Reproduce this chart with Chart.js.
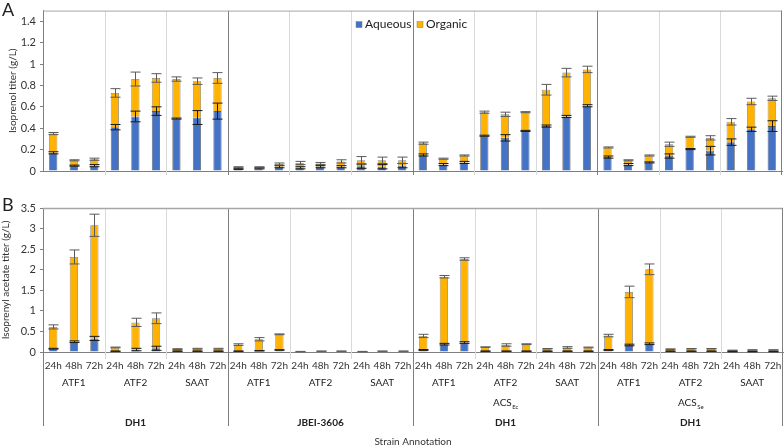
<!DOCTYPE html>
<html>
<head>
<meta charset="utf-8">
<script src="https://cdn.jsdelivr.net/npm/chart.js@4.4.1/dist/chart.umd.min.js"></script>
<style>
body { margin: 0; background: #fff; }
#wrap { position: relative; width: 784px; height: 448px; font-family: Lato, sans-serif; }
.box { position: absolute; left: 0; width: 784px; }
.tag { position: absolute; left: 2px; font-size: 18px; line-height: 18px; color: #222; }
</style>
</head>
<body>
<div id="wrap">
  <div class="box" style="top:0;height:182px"><canvas id="chartA"></canvas></div>
  <div class="box" style="top:180px;height:268px"><canvas id="chartB"></canvas></div>
  <div class="tag" style="top:0px">A</div>
  <div class="tag" style="top:195px">B</div>
</div>
<script>
// category levels
const strains = ['DH1', 'JBEI-3606', 'DH1', 'DH1'];
const acsTags = ['', '', 'Ec', 'Se'];
const enzymes = ['ATF1', 'ATF2', 'SAAT'];
const times = ['24h', '48h', '72h'];

// panel A - isoprenol (g/L)
const aqueousA = [0.17, 0.05, 0.05, 0.41, 0.51, 0.56, 0.49, 0.50, 0.56,
    0.02, 0.025, 0.04, 0.03, 0.04, 0.04, 0.045, 0.04, 0.05,
    0.15, 0.06, 0.08, 0.33, 0.31, 0.375, 0.42, 0.51, 0.61,
    0.13, 0.06, 0.08, 0.14, 0.205, 0.19, 0.27, 0.39, 0.42];
const organicA = [0.18, 0.05, 0.06, 0.32, 0.35, 0.31, 0.37, 0.34, 0.31,
    0.015, 0.01, 0.025, 0.045, 0.03, 0.05, 0.055, 0.06, 0.05,
    0.11, 0.055, 0.065, 0.22, 0.22, 0.175, 0.34, 0.41, 0.34,
    0.09, 0.04, 0.065, 0.11, 0.115, 0.12, 0.19, 0.26, 0.26];
const errAqA = [0.01, 0.005, 0.01, 0.025, 0.05, 0.04, 0.005, 0.065, 0.075,
    0.005, 0.005, 0.01, 0.01, 0.01, 0.01, 0.02, 0.02, 0.02,
    0.01, 0.01, 0.01, 0.005, 0.03, 0.005, 0.01, 0.01, 0.01,
    0.01, 0.01, 0.005, 0.02, 0.005, 0.04, 0.03, 0.02, 0.05];
const errOrgA = [0.01, 0.005, 0.01, 0.04, 0.065, 0.04, 0.02, 0.03, 0.05,
    0.005, 0.005, 0.01, 0.015, 0.01, 0.015, 0.035, 0.03, 0.03,
    0.01, 0.005, 0.005, 0.01, 0.02, 0.005, 0.05, 0.04, 0.03,
    0.005, 0.005, 0.005, 0.02, 0.005, 0.02, 0.03, 0.03, 0.02];
const ticksA = [0, 0.2, 0.4, 0.6, 0.8, 1, 1.2, 1.4];

// panel B - isoprenyl acetate (g/L)
const aqueousB = [0.08, 0.25, 0.33, 0.02, 0.06, 0.09, 0.02, 0.02, 0.02,
    0.02, 0.03, 0.05, 0.005, 0.01, 0.01, 0.005, 0.01, 0.01,
    0.05, 0.19, 0.23, 0.02, 0.02, 0.02, 0.02, 0.02, 0.02,
    0.05, 0.17, 0.20, 0.02, 0.02, 0.02, 0.01, 0.01, 0.01];
const organicB = [0.53, 2.06, 2.75, 0.09, 0.66, 0.73, 0.05, 0.06, 0.06,
    0.16, 0.28, 0.38, 0.005, 0.01, 0.01, 0.005, 0.01, 0.01,
    0.34, 1.64, 2.03, 0.10, 0.15, 0.17, 0.06, 0.09, 0.09,
    0.35, 1.29, 1.81, 0.05, 0.06, 0.06, 0.03, 0.04, 0.04];
const errAqB = [0.01, 0.02, 0.05, 0.005, 0.03, 0.05, 0.005, 0.005, 0.005,
    0.005, 0.005, 0.005, 0, 0, 0, 0, 0, 0,
    0.01, 0.02, 0.02, 0.005, 0.005, 0.005, 0.005, 0.005, 0.005,
    0.01, 0.02, 0.02, 0.005, 0.005, 0.005, 0.005, 0.005, 0.005];
const errOrgB = [0.05, 0.17, 0.27, 0.01, 0.1, 0.13, 0.01, 0.01, 0.01,
    0.02, 0.04, 0.01, 0.005, 0.005, 0.005, 0.005, 0.005, 0.005,
    0.04, 0.03, 0.03, 0.005, 0.03, 0.01, 0.005, 0.02, 0.01,
    0.03, 0.14, 0.13, 0.005, 0.005, 0.005, 0.005, 0.005, 0.005];
const ticksB = [0, 0.5, 1, 1.5, 2, 2.5, 3, 3.5];

const FONT = 'Lato, sans-serif';
const BLUE = '#4472C4';
const ORANGE = '#FFB300';

const labels = [];
strains.forEach(() => enzymes.forEach(() => times.forEach(t => labels.push(t))));

function midX(chart, i) {
    const x = chart.scales.x;
    return (x.getPixelForValue(i - 1) + x.getPixelForValue(i)) / 2;
}

function line(ctx, x1, y1, x2, y2, color, w) {
    ctx.strokeStyle = color;
    ctx.lineWidth = w || 1;
    ctx.beginPath();
    ctx.moveTo(x1, y1);
    ctx.lineTo(x2, y2);
    ctx.stroke();
}

// separators between enzyme / strain groups, plus frame
const dividers = {
    id: 'dividers',
    beforeDatasetsDraw(chart, args, opts) {
        const { ctx, chartArea: a } = chart;
        ctx.save();
        for (let i = 3; i < labels.length; i += 3) {
            const x = Math.round(midX(chart, i)) + 0.5;
            if (i % 9 === 0) line(ctx, x, a.top, x, a.bottom + opts.strainDrop, '#7f7f7f');
            else line(ctx, x, a.top, x, a.bottom + opts.enzDrop, '#d9d9d9');
        }
        line(ctx, a.left, a.top + 0.5, a.right, a.top + 0.5, '#a6a6a6', opts.topW);
        line(ctx, Math.round(a.right) - 0.5, a.top, Math.round(a.right) - 0.5, a.bottom + opts.strainDrop, '#7f7f7f');
        if (opts.strainDrop > 5) line(ctx, Math.round(a.left) + 0.5, a.bottom, Math.round(a.left) + 0.5, a.bottom + opts.strainDrop, '#7f7f7f');
        ctx.restore();
    }
};

const errbars = {
    id: 'errbars',
    afterDatasetsDraw(chart, args, opts) {
        const ctx = chart.ctx, y = chart.scales.y;
        ctx.save();
        chart.data.datasets.forEach((ds, d) => {
            const meta = chart.getDatasetMeta(d);
            meta.data.forEach((bar, i) => {
                const e = opts.errors[d][i];
                if (!e) return;
                let top = 0;
                for (let k = 0; k <= d; k++) top += chart.data.datasets[k].data[i];
                const y1 = y.getPixelForValue(top + e), y2 = y.getPixelForValue(top - e);
                const x = Math.round(bar.x) + 0.5;
                line(ctx, x, y1, x, y2, opts.colors[d]);
                line(ctx, x - 5, y1, x + 5, y1, opts.colors[d]);
                line(ctx, x - 5, y2, x + 5, y2, opts.colors[d]);
            });
        });
        ctx.restore();
    }
};

const innerLegend = {
    id: 'innerLegend',
    afterDraw(chart) {
        const { ctx, chartArea: a } = chart;
        ctx.save();
        ctx.font = '12px ' + FONT;
        ctx.textBaseline = 'middle';
        let x = a.left + 313;
        const y = a.top + 14;
        chart.data.datasets.forEach(ds => {
            ctx.fillStyle = ds.backgroundColor;
            ctx.fillRect(x, y - 3, 6, 6);
            ctx.strokeStyle = '#7f7f7f';
            ctx.lineWidth = 0.5;
            ctx.strokeRect(x, y - 3, 6, 6);
            ctx.fillStyle = '#222';
            ctx.fillText(ds.label, x + 9, y);
            x += 61;
        });
        ctx.restore();
    }
};

// multi-level category labels under panel B
const groupLabels = {
    id: 'groupLabels',
    afterDraw(chart) {
        const { ctx, chartArea: a } = chart;
        const xs = chart.scales.x;
        const yb = a.bottom;
        ctx.save();
        ctx.fillStyle = '#222';
        ctx.textBaseline = 'middle';
        ctx.textAlign = 'center';
        ctx.font = '10px ' + FONT;
        for (let g = 0; g < strains.length * enzymes.length; g++) {
            const cx = (xs.getPixelForValue(g * 3) + xs.getPixelForValue(g * 3 + 2)) / 2;
            ctx.fillText(enzymes[g % 3], cx, yb + 31);
        }
        strains.forEach((s, k) => {
            const cx = (xs.getPixelForValue(k * 9) + xs.getPixelForValue(k * 9 + 8)) / 2;
            if (acsTags[k]) {
                ctx.textAlign = 'left';
                ctx.font = '10px ' + FONT;
                const w1 = ctx.measureText('ACS').width;
                ctx.font = '6px ' + FONT;
                const w2 = ctx.measureText(acsTags[k]).width;
                const x0 = cx - (w1 + w2) / 2;
                ctx.font = '10px ' + FONT;
                ctx.fillText('ACS', x0, yb + 51);
                ctx.font = '6px ' + FONT;
                ctx.fillText(acsTags[k], x0 + w1 + 0.5, yb + 55);
                ctx.textAlign = 'center';
            }
            ctx.font = 'bold 10px ' + FONT;
            ctx.fillText(s, cx, yb + 71);
        });
        ctx.restore();
    }
};

function makeChart(id, aq, org, errs, ticks, ymax, title, extra) {
    const tickFont = { family: FONT, size: 11 };
    return new Chart(document.getElementById(id), {
        type: 'bar',
        data: {
            labels: labels,
            datasets: [
                { label: 'Aqueous', data: aq, backgroundColor: BLUE, borderColor: '#5a5a5a', borderWidth: 0.8 },
                { label: 'Organic', data: org, backgroundColor: ORANGE, borderColor: '#7f7f7f', borderWidth: 0.8 }
            ]
        },
        options: {
            responsive: true,
            maintainAspectRatio: false,
            animation: false,
            datasets: { bar: { barPercentage: 0.4, categoryPercentage: 1 } },
            layout: { padding: extra.padding },
            plugins: {
                legend: { display: false },
                tooltip: { enabled: false },
                errbars: { errors: errs, colors: ['#1a1a1a', '#5a5a5a'] },
                dividers: extra.dividers
            },
            scales: {
                x: extra.x,
                y: {
                    stacked: true,
                    min: 0,
                    max: ymax,
                    afterBuildTicks(axis) { axis.ticks = ticks.map(v => ({ value: v })); },
                    afterFit(axis) { axis.width = 43 - extra.padding.left; },
                    ticks: { font: tickFont, color: '#333', padding: 4, callback: v => String(v) },
                    grid: { drawOnChartArea: false, drawTicks: true, tickLength: 3, color: '#7f7f7f' },
                    border: { color: '#7f7f7f' },
                    title: { display: true, text: title, font: { family: FONT, size: 10 }, color: '#333', padding: { top: 0, bottom: 2 } }
                }
            }
        },
        plugins: extra.plugins
    });
}

makeChart('chartA', aqueousA, organicA, [errAqA, errOrgA], ticksA, 1.5, 'Isoprenol titer (g/L)', {
    padding: { top: 10, right: 2, left: 7, bottom: 0 },
    dividers: { strainDrop: 4, enzDrop: 4, topW: 1 },
    x: {
        stacked: true,
        ticks: { display: false },
        grid: { display: false },
        border: { color: '#7f7f7f' },
        afterFit(s) { s.height = 11; }
    },
    plugins: [dividers, errbars, innerLegend]
});

makeChart('chartB', aqueousB, organicB, [errAqB, errOrgB], ticksB, 3.5, 'Isoprenyl acetate titer (g/L)', {
    padding: { top: 28, right: 1, left: 0, bottom: 0 },
    dividers: { strainDrop: 74, enzDrop: 7, topW: 1.5 },
    x: {
        stacked: true,
        grid: { display: false },
        border: { color: '#7f7f7f' },
        ticks: { font: { family: FONT, size: 10 }, color: '#333', padding: 0, maxRotation: 0, autoSkip: false },
        title: { display: true, text: 'Strain Annotation', font: { family: FONT, size: 10 }, color: '#333', padding: { top: 0, bottom: 0 } },
        afterFit(s) { s.height = 96; }
    },
    plugins: [dividers, errbars, groupLabels]
});
</script>
</body>
</html>
